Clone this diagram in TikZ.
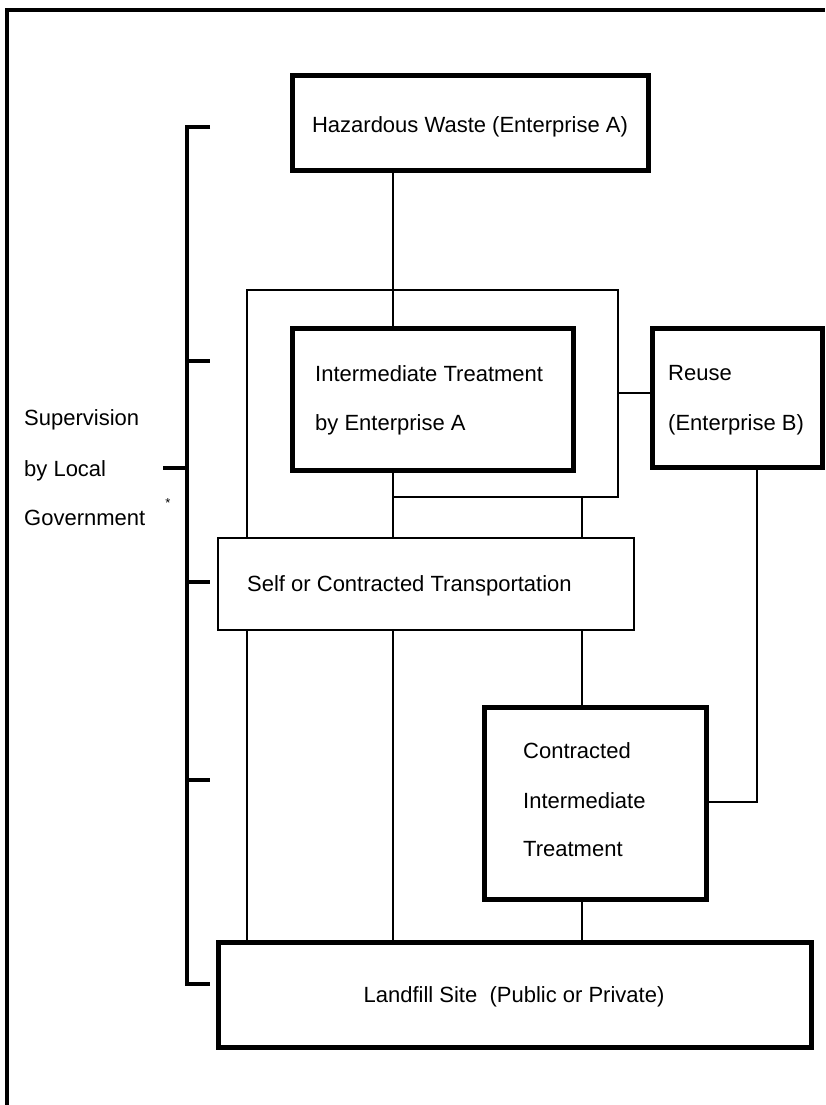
\documentclass[tikz,border=0pt]{standalone}
\usepackage{fontspec}
\setmainfont{Liberation Sans}
\begin{document}
\begin{tikzpicture}[x=1pt,y=-1pt,
  thickbox/.style={draw, line width=5pt, inner sep=0pt, minimum width=#1},
  thinbox/.style={draw, line width=2.4pt, inner sep=0pt},
  conn/.style={line width=2.2pt},
  brk/.style={line width=4.5pt},
  lbl/.style={anchor=base west, inner sep=0pt, font=\fontsize{22}{26}\selectfont},
  clbl/.style={anchor=base, inner sep=0pt, font=\fontsize{22}{26}\selectfont}]
\useasboundingbox (0,0) rectangle (825,1105);
% outer frame
\draw[line width=3.5pt] (7,1105) -- (7,10) -- (825,10);
% boxes
\node[thickbox=356pt, minimum height=94pt] (haz) at (470,123) {};
\node[thickbox=281pt, minimum height=142pt] (int) at (432.5,399) {};
\node[thickbox=170pt, minimum height=139pt] (reuse) at (737,397.5) {};
\node[thinbox, minimum width=416pt, minimum height=92pt] (trans) at (426,584) {};
\node[thickbox=222pt, minimum height=192pt] (con) at (595,803) {};
\node[thickbox=593pt, minimum height=105pt] (land) at (514.5,994.5) {};
% texts
\node[clbl] (tHaz) at (470,132) {Hazardous Waste (Enterprise A)};
\node[lbl] (tInt1) at (315,381) {Intermediate Treatment};
\node[lbl] (tInt2) at (315,430) {by Enterprise A};
\node[lbl] (tReu1) at (668,380) {Reuse};
\node[lbl] (tReu2) at (668,430) {(Enterprise B)};
\node[lbl] (tTra) at (247,591) {Self or Contracted Transportation};
\node[lbl] (tCon1) at (523,758) {Contracted};
\node[lbl] (tCon2) at (523,808) {Intermediate};
\node[lbl] (tCon3) at (523,856) {Treatment};
\node[clbl] (tLand) at (514,1002) {Landfill Site\ \ (Public or Private)};
\node[lbl] (tSup1) at (24,425) {Supervision};
\node[lbl] (tSup2) at (24,476) {by Local};
\node[lbl] (tSup3) at (24,525) {Government};
\node[inner sep=0pt, font=\fontsize{13}{13}\selectfont] (ast) at (168,503) {*};
% column coordinates
\coordinate (colA) at (247,0);
\coordinate (colB) at (393,0);
\coordinate (colC) at (582,0);
\coordinate (frTL) at (247,290);
\coordinate (frTR) at (618,290);
\coordinate (frBR) at (618,497);
\coordinate (frBL) at (393,497);
\coordinate (rconn) at (0,393);
\coordinate (rc) at (757,802);
% connectors
\draw[conn] (haz.south -| colB) -- (int.north -| colB);
\draw[conn] (trans.north -| colA) -- (frTL) -- (frTR) -- (frBR) -- (frBL);
\draw[conn] (int.south -| colB) -- (trans.north -| colB);
\draw[conn] (frBR -| colC) -- (trans.north -| colC);
\draw[conn] (frTR |- rconn) -- (reuse.west |- rconn);
\draw[conn] (trans.south -| colA) -- (land.north -| colA);
\draw[conn] (trans.south -| colB) -- (land.north -| colB);
\draw[conn] (trans.south -| colC) -- (con.north -| colC);
\draw[conn] (con.south -| colC) -- (land.north -| colC);
\draw[conn] (reuse.south -| rc) -- (rc) -- (con.east |- rc);
% supervision bracket
\coordinate (bT) at (187,127);
\coordinate (bB) at (187,984);
\draw[brk] (210,127) -- (bT) -- (bB) -- (210,984);
\coordinate (k1) at (187,361);
\coordinate (k2) at (187,582);
\coordinate (k3) at (187,780);
\coordinate (k0) at (187,468);
\draw[brk] (k1) -- ++(23,0);
\draw[brk] (k2) -- ++(23,0);
\draw[brk] (k3) -- ++(23,0);
\draw[brk] (k0) -- ++(-24,0);
\end{tikzpicture}
\end{document}
